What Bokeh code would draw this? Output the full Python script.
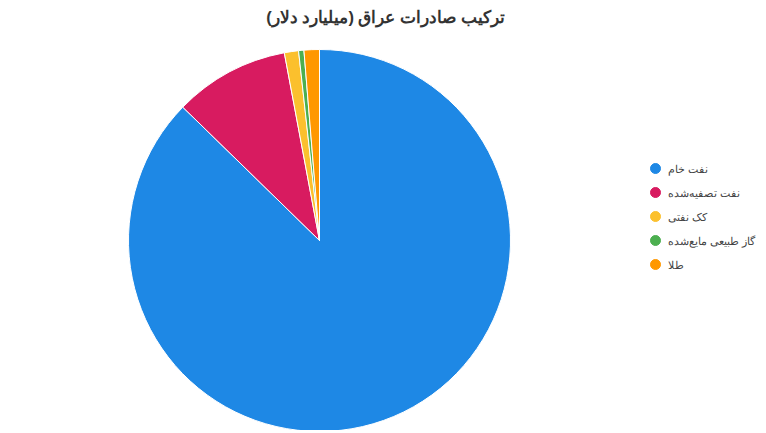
import numpy as np
from bokeh.plotting import figure
from bokeh.models import ColumnDataSource, Range1d, Label
from bokeh.core.properties import value
from bokeh.embed import file_html
from bokeh.resources import INLINE

categories = ["نفت خام", "نفت تصفیه‌شده", "کک نفتی", "گاز طبیعی مایع‌شده", "طلا"]
values = [87.3, 9.75, 1.2, 0.45, 1.3]
colors = ["#1E88E5", "#D81B60", "#FBC02D", "#4CAF50", "#FF9800"]
title_text = "ترکیب صادرات عراق (میلیارد دلار)"

W, H = 762, 430
p = figure(width=W, height=H, output_backend="svg", toolbar_location=None,
           x_range=Range1d(0, W), y_range=Range1d(0, H), min_border=0)
p.axis.visible = False
p.grid.visible = False
p.outline_line_color = None
p.background_fill_color = "white"

vals = np.array(values, dtype=float)
frac = vals / vals.sum()
cum_end = np.cumsum(frac) * 2 * np.pi
cum_start = cum_end - frac * 2 * np.pi
start = np.pi / 2 - cum_start
end = np.pi / 2 - cum_end

cx, cy, r = 319, 190, 191
src = ColumnDataSource(dict(start=start, end=end, color=colors, cat=categories))
p.wedge(x=cx, y=cy, radius=r, radius_units="screen", start_angle="start", end_angle="end",
        direction="clock", fill_color="color", line_color="white", line_width=1, source=src)

# legend
n = len(categories)
ly0, lstep = 262, 24
lsrc = ColumnDataSource(dict(x=[655] * n, tx=[667] * n,
                             y=[ly0 - i * lstep for i in range(n)],
                             color=colors, cat=categories))
p.scatter(x="x", y="y", size=10, marker="circle", fill_color="color", line_color="color", source=lsrc)
p.text(x="tx", y="y", text="cat", source=lsrc, text_font=value("Liberation Sans"),
       text_font_size="11px", text_color="#444444", text_baseline="middle", text_align="left")

p.add_layout(Label(x=385, y=414, text=title_text, text_font="Liberation Sans",
                   text_font_size="16.5px", text_font_style="bold", text_color="#333333",
                   text_align="center", text_baseline="middle"))

open("out.html", "w").write(file_html(p, INLINE))
